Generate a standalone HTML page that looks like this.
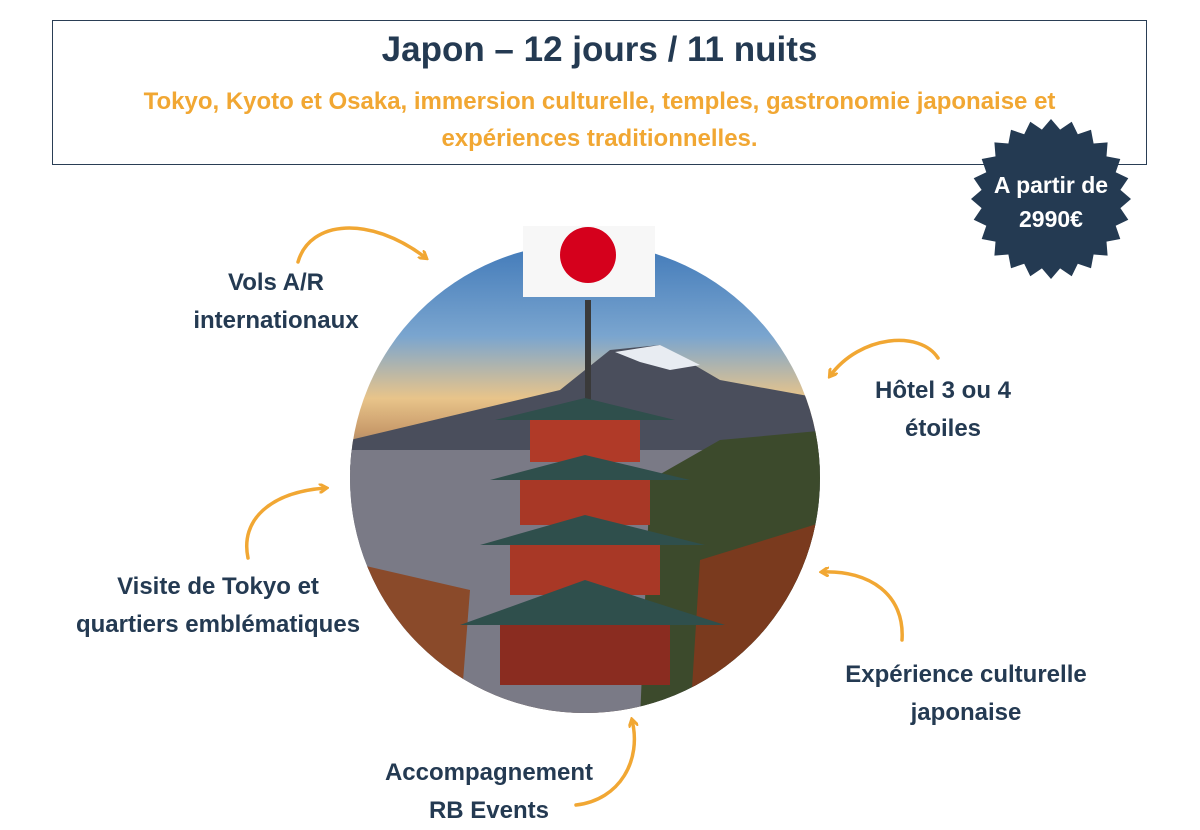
<!DOCTYPE html>
<html><head><meta charset="utf-8"><style>
body{margin:0;width:1200px;height:829px;background:#fff;position:relative;overflow:hidden;font-family:"Liberation Sans",Calibri,sans-serif;}
.box{position:absolute;left:52px;top:20px;width:1093px;height:143px;border:1.5px solid #2a3e55;}
.t{position:absolute;left:52px;width:1095px;text-align:center;font-weight:bold;}
.lab{position:absolute;color:#243a52;font-weight:bold;font-size:24px;line-height:38px;text-align:center;}
</style></head><body>
<div class="box"></div>
<div class="t" style="top:30px;font-size:35px;color:#243a52;">Japon – 12 jours / 11 nuits</div>
<div class="t" style="top:83px;font-size:24px;line-height:37px;color:#f1a733;">Tokyo, Kyoto et Osaka, immersion culturelle, temples, gastronomie japonaise et<br>expériences traditionnelles.</div>
<svg width="1200" height="829" style="position:absolute;left:0;top:0">
<defs>
<linearGradient id="sky" x1="0" y1="0" x2="0" y2="1">
<stop offset="0" stop-color="#3f78b8"/><stop offset="0.2" stop-color="#7aa5cf"/><stop offset="0.33" stop-color="#e8c48a"/><stop offset="0.4" stop-color="#c89a6a"/><stop offset="0.5" stop-color="#5c5e66"/><stop offset="0.7" stop-color="#6c6a70"/><stop offset="1" stop-color="#5a3a2a"/></linearGradient>
<clipPath id="c"><circle cx="585" cy="478" r="235"/></clipPath>
<marker id="ah" markerWidth="10" markerHeight="10" refX="7" refY="5" orient="auto" markerUnits="userSpaceOnUse"><path d="M0,0 L8,5 L0,10" fill="none" stroke="#f1a733" stroke-width="3"/></marker>
</defs>
<g clip-path="url(#c)">
<rect x="340" y="240" width="490" height="480" fill="url(#sky)"/>
<path d="M350,440 L560,390 L610,350 L660,345 L720,380 L830,400 L830,470 L350,470Z" fill="#4a4e5c"/>
<path d="M615,352 L660,345 L700,365 L670,370 L640,362Z" fill="#e8ecf2"/>
<rect x="340" y="450" width="490" height="280" fill="#7a7a86"/>
<path d="M650,480 L720,440 L830,430 L830,720 L640,720Z" fill="#3c4a2c"/>
<path d="M700,560 L830,520 L830,720 L690,720Z" fill="#7a3a1e"/>
<path d="M340,560 L470,590 L460,720 L340,720Z" fill="#8a4a2a"/>
<rect x="585" y="300" width="6" height="100" fill="#3a3a3a"/>
<path d="M495,420 L585,398 L675,420 Z" fill="#2f4f4c"/>
<rect x="530" y="420" width="110" height="42" fill="#b03a28"/>
<path d="M490,480 L585,455 L690,480 Z" fill="#2f4f4c"/>
<rect x="520" y="480" width="130" height="45" fill="#a83826"/>
<path d="M480,545 L585,515 L705,545 Z" fill="#2f4f4c"/>
<rect x="510" y="545" width="150" height="50" fill="#a83826"/>
<path d="M460,625 L585,580 L725,625 Z" fill="#2f4f4c"/>
<rect x="500" y="625" width="170" height="60" fill="#8a2c20"/>
</g>
<rect x="523" y="226" width="132" height="71" fill="#f7f7f7"/>
<circle cx="588" cy="255" r="28" fill="#d5001c"/>
<g fill="none" stroke="#f1a733" stroke-width="3.5" stroke-linecap="round">
<path d="M298,262 C310,220 370,215 426,258" marker-end="url(#ah)"/>
<path d="M938,358 C920,330 860,335 830,376" marker-end="url(#ah)"/>
<path d="M248,558 C240,520 270,492 326,488" marker-end="url(#ah)"/>
<path d="M902,640 C905,595 870,570 822,572" marker-end="url(#ah)"/>
<path d="M576,805 C620,800 642,760 632,720" marker-end="url(#ah)"/>
</g>
</svg>
<svg width="170" height="170" style="position:absolute;left:966px;top:114px" viewBox="-85 -85 170 170">
<polygon fill="#243a52" id="st"/>
<text x="0" y="-6" text-anchor="middle" fill="#fff" font-weight="bold" font-size="23" font-family="Liberation Sans,sans-serif">A partir de</text>
<text x="0" y="28" text-anchor="middle" fill="#fff" font-weight="bold" font-size="23" font-family="Liberation Sans,sans-serif">2990€</text>
</svg>
<script>
var p=[];for(var i=0;i<48;i++){var r=i%2?70:80,a=i*Math.PI/24;p.push((r*Math.cos(a)).toFixed(1)+","+(r*Math.sin(a)).toFixed(1));}
var s=document.getElementById('st');s.setAttribute('points',p.join(' '));s.parentNode.insertBefore(s,s.parentNode.firstChild);
</script>
<div class="lab" style="left:136px;top:264px;width:280px;">Vols A/R<br>internationaux</div>
<div class="lab" style="left:813px;top:372px;width:260px;">Hôtel 3 ou 4<br>étoiles</div>
<div class="lab" style="left:38px;top:568px;width:360px;">Visite de Tokyo et<br>quartiers emblématiques</div>
<div class="lab" style="left:806px;top:656px;width:320px;">Expérience culturelle<br>japonaise</div>
<div class="lab" style="left:339px;top:754px;width:300px;">Accompagnement<br>RB Events</div>
</body></html>
